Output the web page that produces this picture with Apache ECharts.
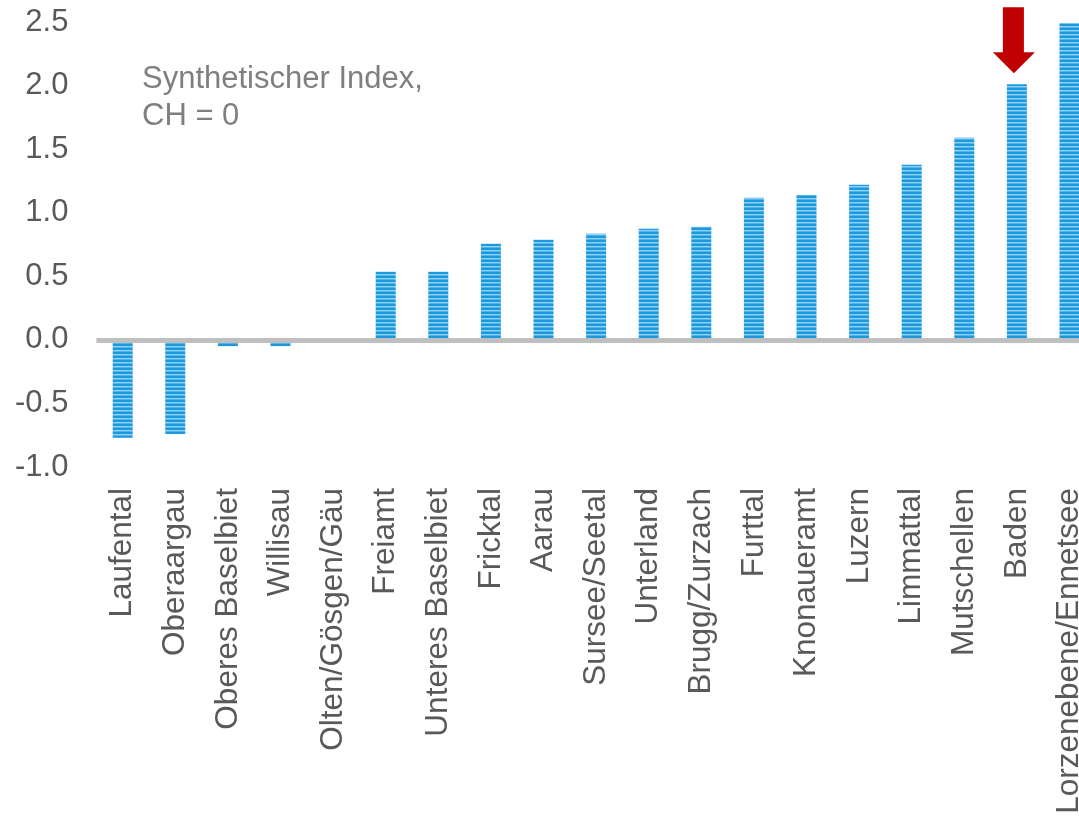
<!DOCTYPE html>
<html>
<head>
<meta charset="utf-8">
<title>Synthetischer Index</title>
<script src="https://cdn.jsdelivr.net/npm/echarts@6/dist/echarts.min.js"></script>
<style>
    html,body{
        margin:0;
        padding:0;
        background:#fff;
    }
    #chart{
        width:1079px;
        height:816px;
    }
</style>
</head>
<body>
<div id="chart"></div>
<script>
// Regionen (sortiert nach Indexwert)
var regions = ['Laufental','Oberaargau','Oberes Baselbiet','Willisau','Olten/Gösgen/Gäu','Freiamt',
    'Unteres Baselbiet','Fricktal','Aarau','Sursee/Seetal','Unterland','Brugg/Zurzach','Furttal',
    'Knonaueramt','Luzern','Limmattal','Mutschellen','Baden','Lorzenebene/Ennetsee']
var indexValues = [-0.77,-0.74,-0.05,-0.05,0.0,0.535,0.535,0.755,0.787,0.834,0.873,0.889,1.117,
    1.14,1.22,1.377,1.59,2.01,2.49]
var highlight = 'Baden'
var yMin = -1, yMax = 2.5, yStep = 0.5

var font = 'Liberation Sans, Arial, sans-serif'

// gestreifte Balkenfuellung
function stripes(){
    var c = document.createElement('canvas')
    c.width = 4
    c.height = 4
    var ctx = c.getContext('2d')
    ctx.fillStyle = '#1c98de'
    ctx.fillRect(0,0,4,4)
    ctx.fillStyle = '#92d3f5'
    ctx.fillRect(0,2,4,1)
    ctx.fillStyle = '#4fb4eb'
    ctx.fillRect(0,3,4,1)
    return c
}

var myChart = echarts.init(document.getElementById('chart'))
myChart.setOption({
    animation:false,
    grid:{
        left:96.4,
        width:999.4,
        top:22,
        bottom:349,
        containLabel:false,
        outerBoundsMode:'none'
    },
    graphic:[{
        type:'text',
        left:142,
        top:61,
        style:{
            text:'Synthetischer Index,\nCH = 0',
            font:'31px ' + font,
            lineHeight:37,
            fill:'#7f7f7f'
        }
    }],
    xAxis:{
        type:'category',
        data:regions,
        axisLine:{show:false,onZero:false},
        axisTick:{show:false},
        axisLabel:{
            interval:0,
            rotate:90,
            margin:21,
            fontSize:31.5,
            fontFamily:font,
            color:'#595959'
        }
    },
    yAxis:{
        type:'value',
        min:yMin,
        max:yMax,
        interval:yStep,
        axisLine:{show:false},
        axisTick:{show:false},
        splitLine:{show:false},
        axisLabel:{
            margin:28,
            fontSize:31,
            fontFamily:font,
            color:'#595959',
            formatter:function(v){ return v.toFixed(1) }
        }
    },
    series:[{
        type:'bar',
        data:indexValues,
        barWidth:'38%',
        itemStyle:{
            color:{image:stripes(),repeat:'repeat'}
        },
        markLine:{
            silent:true,
            symbol:'none',
            label:{show:false},
            lineStyle:{color:'#bfbfbf',width:5,type:'solid'},
            data:[{yAxis:0}]
        },
        markPoint:{
            silent:true,
            symbol:'path://M10,0 L31,0 L31,45 L42,45 L21,66 L0,45 L10,45 Z',
            symbolSize:[42,66],
            symbolOffset:[-3,-44],
            itemStyle:{color:'#c00000'},
            label:{show:false},
            data:[{coord:[highlight, indexValues[regions.indexOf(highlight)]]}]
        }
    }]
})
</script>
</body>
</html>
